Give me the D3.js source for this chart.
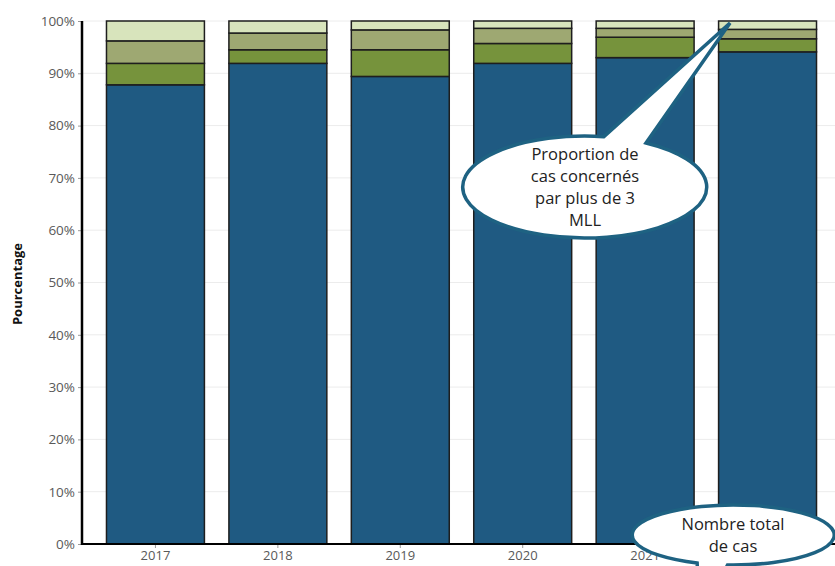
<!DOCTYPE html>
<html>
<head>
<meta charset="utf-8">
<script src="https://cdn.jsdelivr.net/npm/d3@7"></script>
<style>
  html, body { margin: 0; padding: 0; background: #fff; }
  svg { display: block; font-family: "Open Sans", "Noto Sans", sans-serif; }
</style>
</head>
<body>
<svg id="chart" width="835" height="566"></svg>
<script>
// Répartition des cas par nombre de MLL, en pourcentage
const years = ["2017", "2018", "2019", "2020", "2021", "2022"];
const oneMLL = [87.8, 91.9, 89.4, 91.9, 93.0, 94.1];
const twoMLL = [4.1, 2.6, 5.1, 3.8, 3.9, 2.5];
const threeMLL = [4.3, 3.2, 3.8, 2.9, 1.7, 1.8];
const moreThanThreeMLL = [3.8, 2.3, 1.7, 1.4, 1.4, 1.6];
const yTicks = [0, 10, 20, 30, 40, 50, 60, 70, 80, 90, 100];

const seriesKeys = ["one", "two", "three", "more"];
const seriesColors = ["#1f5a82", "#76933c", "#9ea872", "#d8e4bc"];

const rows = years.map((yr, i) => ({
  year: yr,
  one: oneMLL[i],
  two: twoMLL[i],
  three: threeMLL[i],
  more: moreThanThreeMLL[i]
}));

const svg = d3.select("#chart");
const plotLeft = 82, plotBottom = 544, plotTop = 21, plotRight = 835;

const x = d3.scaleBand()
  .domain(years)
  .range([plotLeft, plotLeft + 759])
  .paddingInner(0.2)
  .paddingOuter(0.2);

const y = d3.scaleLinear().domain([0, 100]).range([plotBottom, plotTop]);

// grid
svg.append("g")
  .selectAll("line")
  .data(yTicks.slice(1))
  .join("line")
  .attr("x1", plotLeft).attr("x2", plotRight)
  .attr("y1", d => y(d)).attr("y2", d => y(d))
  .attr("stroke", "#ececec").attr("stroke-width", 1);

// stacked bars
const stacked = d3.stack().keys(seriesKeys)(rows);
svg.append("g")
  .selectAll("g")
  .data(stacked)
  .join("g")
  .attr("fill", (d, i) => seriesColors[i])
  .selectAll("rect")
  .data(d => d)
  .join("rect")
  .attr("x", d => x(d.data.year))
  .attr("width", x.bandwidth())
  .attr("y", d => y(d[1]))
  .attr("height", d => y(d[0]) - y(d[1]))
  .attr("stroke", "#1e1e1e")
  .attr("stroke-width", 1.5);

// y axis
const yAxis = svg.append("g")
  .attr("transform", `translate(${plotLeft},0)`)
  .call(d3.axisLeft(y).tickValues(yTicks).tickFormat(d => d + "%").tickSize(4).tickPadding(3));
yAxis.select(".domain").remove();
yAxis.selectAll(".tick line").attr("stroke", "#999");
yAxis.selectAll(".tick text")
  .attr("fill", "#595959")
  .attr("font-size", 13.5)
  .attr("font-family", "'Open Sans', sans-serif");
svg.append("line")
  .attr("x1", plotLeft).attr("x2", plotLeft)
  .attr("y1", plotTop).attr("y2", plotBottom + 1)
  .attr("stroke", "#000").attr("stroke-width", 2.5);

// x axis
const xAxis = svg.append("g")
  .attr("transform", `translate(0,${plotBottom})`)
  .call(d3.axisBottom(x).tickSize(4).tickPadding(3));
xAxis.select(".domain").remove();
xAxis.selectAll(".tick line").attr("stroke", "#999");
xAxis.selectAll(".tick text")
  .attr("fill", "#595959")
  .attr("font-size", 13)
  .attr("font-family", "'Open Sans', sans-serif");
svg.append("line")
  .attr("x1", plotLeft).attr("x2", plotRight)
  .attr("y1", plotBottom).attr("y2", plotBottom)
  .attr("stroke", "#000").attr("stroke-width", 2);

// y title
svg.append("text")
  .attr("transform", "translate(22,284) rotate(-90)")
  .attr("text-anchor", "middle")
  .attr("font-size", 13)
  .attr("font-weight", "bold")
  .attr("fill", "#111")
  .text("Pourcentage");

// speech-bubble callouts
const calloutStroke = "#1e6282";

function ellipsePoint(cx, cy, rx, ry, px, py, dx, dy) {
  // walk from (px,py) along the direction (dx,dy) to the first ellipse crossing
  const len = Math.hypot(dx, dy);
  const ux = dx / len, uy = dy / len;
  for (let t = 0; t < 1500; t += 0.1) {
    const xx = px + ux * t, yy = py + uy * t;
    if (((xx - cx) / rx) ** 2 + ((yy - cy) / ry) ** 2 <= 1) return [xx, yy];
  }
  return [px, py];
}

function bubble(cx, cy, rx, ry, tip, tailA, tailB, sweep, lines, lineGap, fontSize) {
  const A = ellipsePoint(cx, cy, rx, ry, tip[0], tip[1], tailA[0], tailA[1]);
  const B = ellipsePoint(cx, cy, rx, ry, tip[0], tip[1], tailB[0], tailB[1]);
  const g = svg.append("g");
  g.append("path")
    .attr("d", `M${B[0]},${B[1]} A${rx},${ry} 0 1 ${sweep} ${A[0]},${A[1]} L${tip[0]},${tip[1]} Z`)
    .attr("fill", "#fff")
    .attr("stroke", calloutStroke)
    .attr("stroke-width", 3.5)
    .attr("stroke-linejoin", "miter");
  const startY = cy - (lines.length - 1) * lineGap / 2;
  g.selectAll("text")
    .data(lines)
    .join("text")
    .attr("x", cx)
    .attr("y", (d, i) => startY + i * lineGap)
    .attr("dy", "0.35em")
    .attr("text-anchor", "middle")
    .attr("font-size", fontSize)
    .attr("fill", "#222")
    .text(d => d);
}

bubble(585, 187, 122, 51, [730, 23], [-1.11, 1], [-0.70, 1], 1,
  ["Proportion de", "cas concernés", "par plus de 3", "MLL"], 22, 16.5);

bubble(733, 535, 101, 30, [700, 620], [-0.05, -1], [0.5, -1], 0,
  ["Nombre total", "de cas"], 22, 16.5);
</script>
</body>
</html>
